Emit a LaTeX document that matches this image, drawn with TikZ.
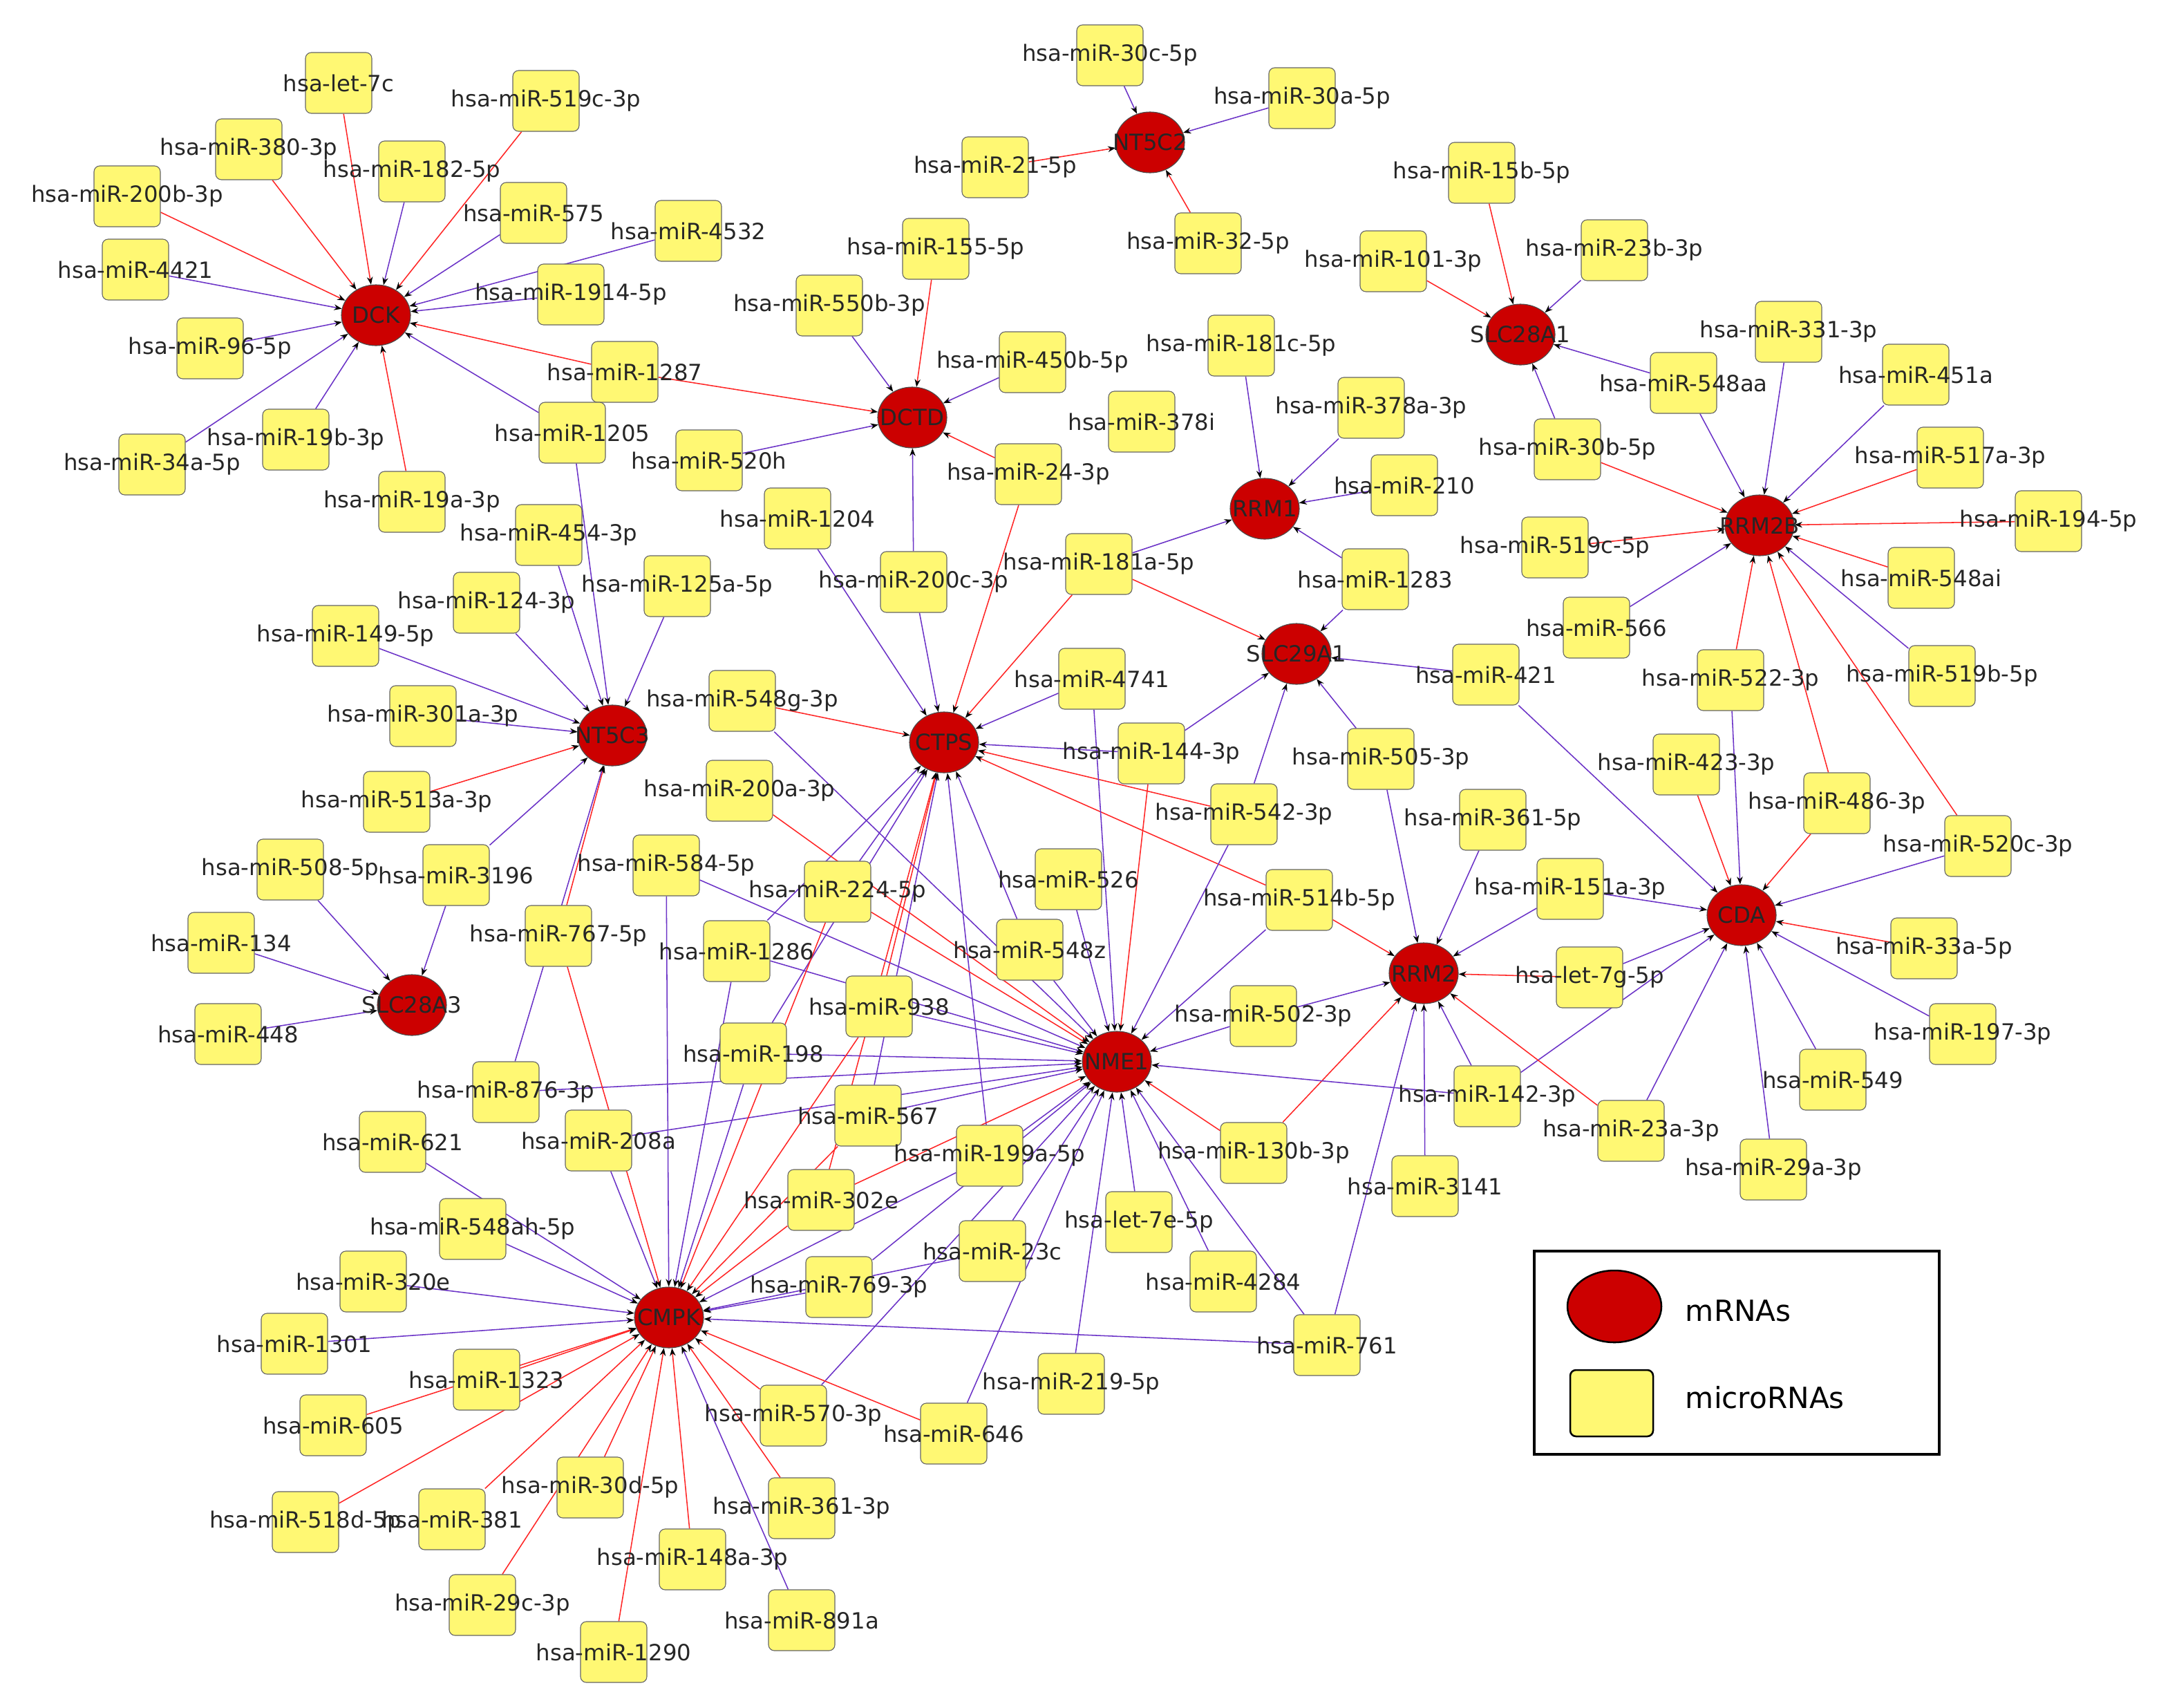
\documentclass[tikz,border=0pt]{standalone}
\usepackage{fontspec}
\setmainfont{DejaVu Sans}
\usetikzlibrary{arrows.meta,shapes.geometric}
\pgfdeclarelayer{bg}\pgfsetlayers{bg,main}
\tikzset{
 mir/.style={draw=black!60,fill=yellow!55!white,rounded corners=6pt,minimum width=2.4cm,minimum height=2.2cm,line width=0.8pt,inner sep=0pt},
 mrna/.style={draw=black!70,fill=red!80!black,ellipse,minimum width=2.5cm,minimum height=2.2cm,line width=0.8pt,inner sep=0pt},
 lab/.style={font=\fontsize{23}{25}\selectfont,inner sep=0pt,text=black!85},
 r/.style={draw=red!85,line width=1.1pt,-{Stealth[black,length=8pt,width=6pt]}},
 b/.style={draw=blue!45!violet!80,line width=1.1pt,-{Stealth[black,length=8pt,width=6pt]}},
}
\newcommand\mi[3]{\node[mir] (#1) at (#2,#3) {}; \node[lab] (#1-t) at (#1) {hsa-#1};}
\newcommand\mr[3]{\node[mrna] (#1) at (#2,#3) {}; \node[lab] (#1-t) at (#1) {#1};}
\begin{document}
\begin{tikzpicture}[x=0.05cm,y=-0.05cm]
\useasboundingbox (0,0) rectangle (1562,1235);
\mr{DCK}{272}{228}\mr{NT5C2}{832}{103}\mr{DCTD}{660}{302}\mr{SLC28A1}{1100}{242}
\mr{RRM1}{915}{368}\mr{RRM2B}{1273}{380}\mr{SLC29A1}{938}{473}\mr{NT5C3}{443}{532}
\mr{CTPS}{683}{537}\mr{SLC28A3}{298}{727}\mr{CDA}{1260}{662}\mr{RRM2}{1030}{704}
\mr{NME1}{808}{768}\mr{CMPK}{484}{953}
\mi{let-7c}{245}{60}\mi{miR-519c-3p}{395}{73}\mi{miR-380-3p}{180}{108}\mi{miR-182-5p}{298}{124}
\mi{miR-200b-3p}{92}{142}\mi{miR-575}{386}{154}\mi{miR-4532}{498}{167}\mi{miR-4421}{98}{195}
\mi{miR-1914-5p}{413}{213}\mi{miR-96-5p}{152}{252}\mi{miR-1287}{452}{269}\mi{miR-19b-3p}{214}{318}
\mi{miR-1205}{414}{313}\mi{miR-34a-5p}{110}{336}\mi{miR-19a-3p}{298}{363}
\mi{miR-30c-5p}{803}{40}\mi{miR-30a-5p}{942}{71}\mi{miR-21-5p}{720}{121}\mi{miR-32-5p}{874}{176}
\mi{miR-155-5p}{677}{180}\mi{miR-550b-3p}{600}{221}\mi{miR-450b-5p}{747}{262}\mi{miR-520h}{513}{333}
\mi{miR-24-3p}{744}{343}\mi{miR-1204}{577}{375}\mi{miR-200c-3p}{661}{421}
\mi{miR-15b-5p}{1072}{125}\mi{miR-101-3p}{1008}{189}\mi{miR-23b-3p}{1168}{181}\mi{miR-181c-5p}{898}{250}
\mi{miR-378i}{826}{305}\mi{miR-378a-3p}{992}{295}\mi{miR-210}{1016}{351}\mi{miR-331-3p}{1294}{240}
\mi{miR-548aa}{1218}{277}\mi{miR-451a}{1386}{271}\mi{miR-30b-5p}{1134}{325}\mi{miR-517a-3p}{1411}{331}
\mi{miR-194-5p}{1482}{377}\mi{miR-519c-5p}{1125}{396}\mi{miR-548ai}{1390}{418}\mi{miR-1283}{995}{419}
\mi{miR-181a-5p}{795}{408}\mi{miR-566}{1155}{454}\mi{miR-454-3p}{397}{387}\mi{miR-125a-5p}{490}{424}
\mi{miR-124-3p}{352}{436}\mi{miR-149-5p}{250}{460}\mi{miR-301a-3p}{306}{518}\mi{miR-548g-3p}{537}{507}
\mi{miR-4741}{790}{491}\mi{miR-421}{1075}{488}\mi{miR-522-3p}{1252}{492}\mi{miR-519b-5p}{1405}{489}
\mi{miR-144-3p}{833}{545}\mi{miR-505-3p}{999}{549}\mi{miR-423-3p}{1220}{553}\mi{miR-200a-3p}{535}{572}
\mi{miR-513a-3p}{287}{580}\mi{miR-542-3p}{900}{589}\mi{miR-361-5p}{1080}{593}\mi{miR-486-3p}{1329}{581}
\mi{miR-520c-3p}{1431}{612}\mi{miR-508-5p}{210}{629}\mi{miR-3196}{330}{633}\mi{miR-584-5p}{482}{626}
\mi{miR-224-5p}{606}{645}\mi{miR-526}{773}{636}\mi{miR-514b-5p}{940}{651}\mi{miR-151a-3p}{1136}{643}
\mi{miR-134}{160}{682}\mi{miR-767-5p}{404}{677}\mi{miR-1286}{533}{688}\mi{miR-548z}{745}{687}
\mi{let-7g-5p}{1150}{707}\mi{miR-33a-5p}{1392}{686}\mi{miR-938}{636}{728}\mi{miR-502-3p}{914}{735}
\mi{miR-448}{165}{748}\mi{miR-197-3p}{1420}{748}\mi{miR-198}{545}{762}\mi{miR-876-3p}{366}{790}
\mi{miR-142-3p}{1076}{793}\mi{miR-549}{1326}{781}\mi{miR-621}{284}{826}\mi{miR-208a}{433}{825}
\mi{miR-567}{628}{807}\mi{miR-23a-3p}{1180}{818}\mi{miR-199a-5p}{716}{836}\mi{miR-130b-3p}{907}{834}
\mi{miR-29a-3p}{1283}{846}\mi{miR-3141}{1031}{858}\mi{miR-302e}{594}{868}\mi{miR-548ah-5p}{342}{889}
\mi{let-7e-5p}{824}{884}\mi{miR-23c}{718}{905}\mi{miR-320e}{270}{927}\mi{miR-4284}{885}{927}
\mi{miR-769-3p}{607}{931}\mi{miR-1301}{213}{972}\mi{miR-761}{960}{973}\mi{miR-1323}{352}{998}
\mi{miR-219-5p}{775}{1001}\mi{miR-605}{241}{1031}\mi{miR-570-3p}{574}{1024}\mi{miR-646}{690}{1037}
\mi{miR-30d-5p}{427}{1076}\mi{miR-518d-5p}{221}{1101}\mi{miR-381}{327}{1099}\mi{miR-361-3p}{580}{1091}
\mi{miR-148a-3p}{501}{1128}\mi{miR-29c-3p}{349}{1161}\mi{miR-891a}{580}{1172}\mi{miR-1290}{444}{1195}
\begin{pgfonlayer}{bg}
\foreach \s/\t/\c in {
let-7c/DCK/r,miR-519c-3p/DCK/r,miR-380-3p/DCK/r,miR-182-5p/DCK/b,miR-200b-3p/DCK/r,miR-575/DCK/b,
miR-4532/DCK/b,miR-4421/DCK/b,miR-1914-5p/DCK/b,miR-96-5p/DCK/b,miR-1287/DCK/r,miR-19b-3p/DCK/b,
miR-1205/DCK/b,miR-34a-5p/DCK/b,miR-19a-3p/DCK/r,
miR-30c-5p/NT5C2/b,miR-30a-5p/NT5C2/b,miR-21-5p/NT5C2/r,miR-32-5p/NT5C2/r,
miR-155-5p/DCTD/r,miR-550b-3p/DCTD/b,miR-450b-5p/DCTD/b,miR-520h/DCTD/b,miR-24-3p/DCTD/r,miR-200c-3p/DCTD/b,miR-1287/DCTD/r,
miR-15b-5p/SLC28A1/r,miR-101-3p/SLC28A1/r,miR-23b-3p/SLC28A1/b,miR-30b-5p/SLC28A1/b,miR-548aa/SLC28A1/b,
miR-181c-5p/RRM1/b,miR-378a-3p/RRM1/b,miR-210/RRM1/b,miR-1283/RRM1/b,miR-181a-5p/RRM1/b,
miR-548aa/RRM2B/b,miR-331-3p/RRM2B/b,miR-451a/RRM2B/b,miR-517a-3p/RRM2B/r,miR-194-5p/RRM2B/r,miR-519c-5p/RRM2B/r,
miR-548ai/RRM2B/r,miR-566/RRM2B/b,miR-522-3p/RRM2B/r,miR-519b-5p/RRM2B/b,miR-486-3p/RRM2B/r,miR-520c-3p/RRM2B/r,miR-30b-5p/RRM2B/r,
miR-1283/SLC29A1/b,miR-421/SLC29A1/b,miR-181a-5p/SLC29A1/r,miR-144-3p/SLC29A1/b,miR-505-3p/SLC29A1/b,miR-542-3p/SLC29A1/b,
miR-454-3p/NT5C3/b,miR-125a-5p/NT5C3/b,miR-124-3p/NT5C3/b,miR-149-5p/NT5C3/b,miR-301a-3p/NT5C3/b,miR-513a-3p/NT5C3/r,
miR-3196/NT5C3/b,miR-767-5p/NT5C3/r,miR-1205/NT5C3/b,
miR-1204/CTPS/b,miR-200c-3p/CTPS/b,miR-24-3p/CTPS/r,miR-548g-3p/CTPS/r,miR-4741/CTPS/b,miR-144-3p/CTPS/b,miR-542-3p/CTPS/r,
miR-514b-5p/CTPS/r,miR-181a-5p/CTPS/r,miR-224-5p/CTPS/b,miR-1286/CTPS/b,miR-938/CTPS/r,miR-567/CTPS/b,miR-302e/CTPS/r,miR-198/CTPS/b,miR-199a-5p/CTPS/b,miR-548z/CTPS/b,
miR-508-5p/SLC28A3/b,miR-134/SLC28A3/b,miR-448/SLC28A3/b,miR-3196/SLC28A3/b,miR-876-3p/NT5C3/b,
miR-421/CDA/b,miR-423-3p/CDA/r,miR-522-3p/CDA/b,miR-486-3p/CDA/r,miR-520c-3p/CDA/b,miR-151a-3p/CDA/b,let-7g-5p/CDA/b,
miR-33a-5p/CDA/r,miR-197-3p/CDA/b,miR-549/CDA/b,miR-29a-3p/CDA/b,miR-23a-3p/CDA/b,miR-142-3p/CDA/b,
miR-505-3p/RRM2/b,miR-361-5p/RRM2/b,miR-151a-3p/RRM2/b,let-7g-5p/RRM2/r,miR-502-3p/RRM2/b,miR-130b-3p/RRM2/r,
miR-142-3p/RRM2/b,miR-3141/RRM2/b,miR-761/RRM2/b,miR-23a-3p/RRM2/r,miR-514b-5p/RRM2/r,
miR-4741/NME1/b,miR-144-3p/NME1/r,miR-542-3p/NME1/b,miR-526/NME1/b,miR-548z/NME1/b,miR-502-3p/NME1/b,miR-142-3p/NME1/b,
miR-130b-3p/NME1/r,let-7e-5p/NME1/b,miR-4284/NME1/b,miR-761/NME1/b,miR-219-5p/NME1/b,miR-646/NME1/b,miR-199a-5p/NME1/b,
miR-567/NME1/b,miR-198/NME1/b,miR-938/NME1/b,miR-1286/NME1/b,miR-584-5p/NME1/b,miR-200a-3p/NME1/r,miR-548g-3p/NME1/b,
miR-224-5p/NME1/r,miR-876-3p/NME1/b,miR-208a/NME1/b,miR-302e/NME1/r,miR-23c/NME1/b,miR-769-3p/NME1/b,miR-570-3p/NME1/b,miR-514b-5p/NME1/b,
miR-1301/CMPK/b,miR-320e/CMPK/b,miR-548ah-5p/CMPK/b,miR-621/CMPK/b,miR-208a/CMPK/b,miR-1323/CMPK/r,miR-605/CMPK/r,
miR-518d-5p/CMPK/r,miR-381/CMPK/r,miR-30d-5p/CMPK/r,miR-29c-3p/CMPK/r,miR-1290/CMPK/r,miR-148a-3p/CMPK/r,miR-891a/CMPK/b,
miR-361-3p/CMPK/r,miR-570-3p/CMPK/r,miR-646/CMPK/r,miR-761/CMPK/b,miR-769-3p/CMPK/b,miR-23c/CMPK/b,miR-302e/CMPK/r,
miR-199a-5p/CMPK/b,miR-567/CMPK/r,miR-198/CMPK/b,miR-1286/CMPK/b,miR-584-5p/CMPK/b,miR-767-5p/CMPK/r,miR-224-5p/CMPK/r,miR-938/CMPK/r}
 \draw[\c] (\s) -- (\t);
\end{pgfonlayer}
% legend
\node[draw=black,line width=2.5pt,minimum width=14.65cm,minimum height=7.35cm,inner sep=0pt] (legend) at (1256.5,978.5) {};
\node[mrna,minimum width=3.4cm,minimum height=2.6cm,line width=1.8pt,draw=black] (lm) at (1168,945) {};
\node[mir,minimum width=3cm,minimum height=2.4cm,line width=1.8pt,draw=black] (ly) at (1166,1015) {};
\node[anchor=west,font=\fontsize{30}{32}\selectfont] (lmt) at (1217,948) {mRNAs};
\node[anchor=west,font=\fontsize{30}{32}\selectfont] (lyt) at (1217,1011) {microRNAs};
\end{tikzpicture}
\end{document}
